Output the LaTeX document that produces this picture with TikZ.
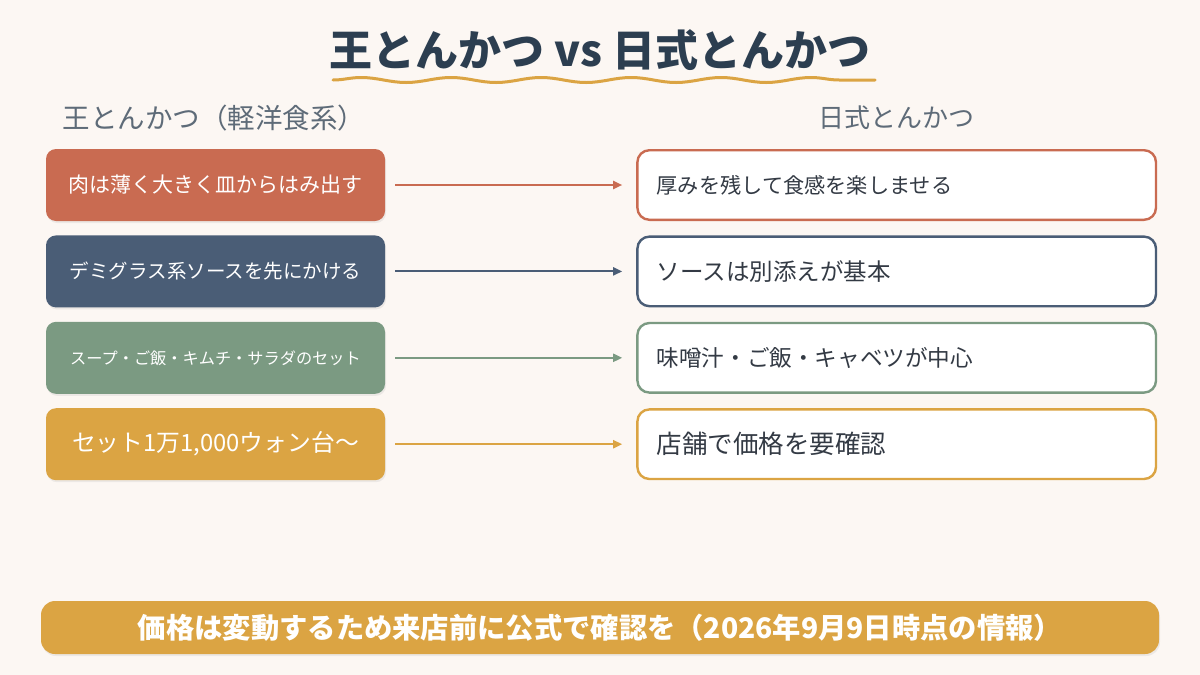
\documentclass[tikz,border=0pt]{standalone}
\usepackage{fontspec}
\setmainfont{Noto Sans CJK JP}
\usetikzlibrary{arrows.meta, positioning, decorations.pathmorphing, shadows}

\definecolor{bgcream}{HTML}{FCF7F3}
\definecolor{titlenavy}{HTML}{2C3E50}
\definecolor{headgray}{HTML}{5E6B78}
\definecolor{textdark}{HTML}{333A44}
\definecolor{tonkred}{HTML}{C96B51}
\definecolor{tonkslate}{HTML}{4A5D76}
\definecolor{tonksage}{HTML}{7B9A82}
\definecolor{tonkgold}{HTML}{DBA443}

\tikzset{
  leftbox/.style={rounded corners=10pt, minimum width=339pt, minimum height=72pt,
    inner sep=0pt, text=white, font=\fontsize{21}{24}\selectfont,
    drop shadow={opacity=0.12, shadow xshift=1pt, shadow yshift=-2pt}},
  rightbox/.style={draw=#1, line width=2.4pt, fill=white, rounded corners=12pt,
    minimum width=518.6pt, minimum height=69.6pt, inner xsep=19pt,
    text width=480pt, align=left, text=textdark, font=\fontsize{21.2}{24}\selectfont},
  link/.style={->, line width=2pt, shorten <=10pt, shorten >=14pt},
}

\begin{document}
\begin{tikzpicture}[x=1pt, y=-1pt, >={Triangle[length=9pt, width=8pt]}]
  % 背景と余白
  \useasboundingbox (0,0) rectangle (1200,675);
  \fill[bgcream] (0,0) rectangle (1200,675);

  % タイトル
  \node[text=titlenavy, font=\fontsize{43}{50}\bfseries\selectfont] (title) at (600,50) {王とんかつ vs 日式とんかつ};
  \draw[tonkgold, line width=3pt, line cap=round, decorate,
        decoration={snake, segment length=90pt, amplitude=2.5pt}] (333,80) -- (875,80);

  % 見出し
  \node[anchor=west, text=headgray, font=\fontsize{27.5}{30}\selectfont] (headL) at (59,118) {王とんかつ（軽洋食系）};
  \node[text=headgray, font=\fontsize{26}{30}\selectfont] (headR) at (896,118) {日式とんかつ};

  % 左列：王とんかつ
  \node[leftbox, fill=tonkred] (meatL) at (215.5,185) {肉は薄く大きく皿からはみ出す};
  \node[leftbox, fill=tonkslate, below=14pt of meatL, font=\fontsize{19.5}{23}\selectfont] (sauceL) {デミグラス系ソースを先にかける};
  \node[leftbox, fill=tonksage, below=14pt of sauceL, font=\fontsize{16.2}{20}\selectfont] (setL) {スープ・ご飯・キムチ・サラダのセット};
  \node[leftbox, fill=tonkgold, below=14pt of setL, font=\fontsize{23.8}{27}\selectfont] (priceL) {セット1万1,000ウォン台～};

  % 右列：日式とんかつ
  \node[rightbox=tonkred, right=251pt of meatL] (meatR) {厚みを残して食感を楽しませる};
  \node[rightbox=tonkslate, right=251pt of sauceL, font=\fontsize{23.5}{27}\selectfont] (sauceR) {ソースは別添えが基本};
  \node[rightbox=tonksage, right=251pt of setL, font=\fontsize{22.6}{26}\selectfont] (setR) {味噌汁・ご飯・キャベツが中心};
  \node[rightbox=tonkgold, right=251pt of priceL, font=\fontsize{25.5}{29}\selectfont] (priceR) {店舗で価格を要確認};

  % 矢印
  \draw[link, tonkred] (meatL.east) -- (meatR.west);
  \draw[link, tonkslate] (sauceL.east) -- (sauceR.west);
  \draw[link, tonksage] (setL.east) -- (setR.west);
  \draw[link, tonkgold] (priceL.east) -- (priceR.west);

  % 注記
  \node[fill=tonkgold, rounded corners=14pt, minimum width=1118pt, minimum height=53pt,
        text=white, font=\fontsize{28.3}{31}\bfseries\selectfont,
        drop shadow={opacity=0.12, shadow xshift=1pt, shadow yshift=-2pt}] (note) at (600,627.5)
        {価格は変動するため来店前に公式で確認を（2026年9月9日時点の情報）};
\end{tikzpicture}
\end{document}
